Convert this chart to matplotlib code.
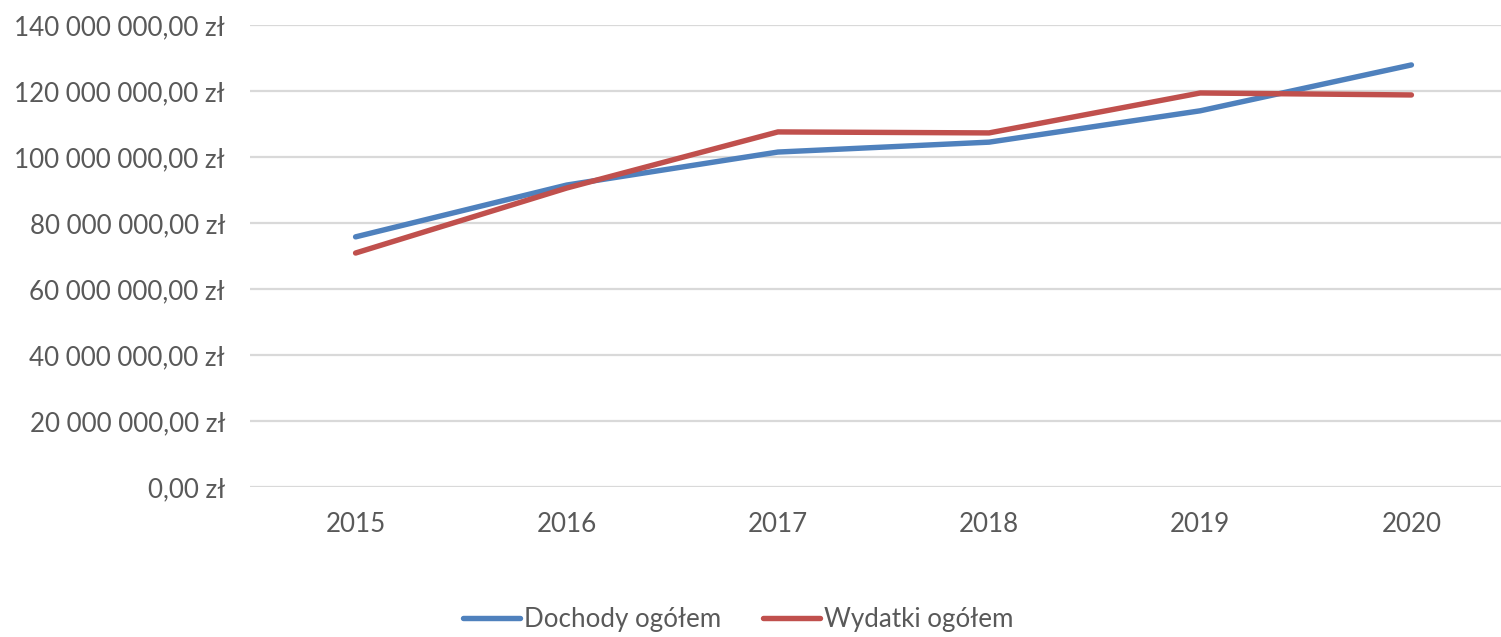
import matplotlib.pyplot as plt
from matplotlib.ticker import FuncFormatter

years = ['2015', '2016', '2017', '2018', '2019', '2020']
dochody = [75.8e6, 91.5e6, 101.5e6, 104.5e6, 114.0e6, 127.9e6]
wydatki = [70.9e6, 90.6e6, 107.6e6, 107.3e6, 119.4e6, 118.8e6]

plt.rcParams['font.family'] = ['Lato', 'DejaVu Sans']
grey = '#595959'

def zl(v, pos):
    s = '{:,.2f}'.format(v).replace(',', ' ').replace('.', ',')
    return s + ' zł'

fig = plt.figure(figsize=(15.01, 6.37), dpi=100)
ax = fig.add_axes([250 / 1501, (637 - 487) / 637, (1517 - 250) / 1501, 462 / 637])

x = range(len(years))
ax.plot(x, dochody, color='#4F81BD', lw=3.9, solid_capstyle='round', label='Dochody ogółem', zorder=3)
ax.plot(x, wydatki, color='#C0504D', lw=3.9, solid_capstyle='round', label='Wydatki ogółem', zorder=3)

ax.set_xlim(-0.5, 5.5)
ax.set_ylim(0, 140e6)
ax.set_yticks(range(0, 140000001, 20000000))
ax.yaxis.set_major_formatter(FuncFormatter(zl))
ax.set_xticks(list(x))
ax.set_xticklabels(years)
ax.grid(axis='y', color='#D9D9D9', lw=1.6)
ax.set_axisbelow(True)
for s in ax.spines.values():
    s.set_visible(False)
ax.tick_params(axis='y', length=0, pad=18, labelsize=18.7, labelcolor=grey)
ax.tick_params(axis='x', length=0, pad=18, labelsize=18.7, labelcolor=grey)

leg = fig.legend(loc='center', bbox_to_anchor=(0.492, 17 / 637), ncol=2, frameon=False,
                 fontsize=18.7, handlelength=2.2, handletextpad=0.15, columnspacing=1.6)
for t in leg.get_texts():
    t.set_color(grey)

fig.savefig('out.png', dpi=100)
